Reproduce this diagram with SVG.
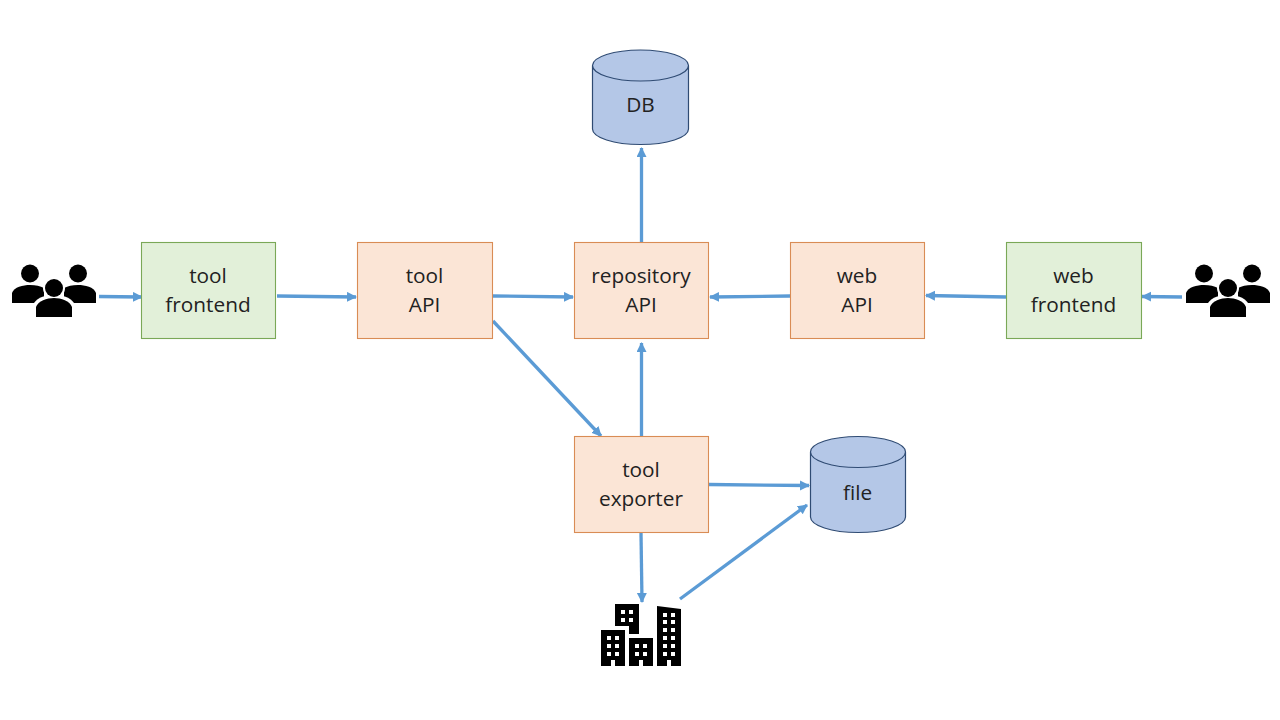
<svg xmlns="http://www.w3.org/2000/svg" xmlns:xlink="http://www.w3.org/1999/xlink" width="1280" height="720" viewBox="0 0 1280 720">
<style>
.o{fill:#fbe5d6;stroke:#d98c55;stroke-width:1.1}
.g{fill:#e2f0d9;stroke:#7aa857;stroke-width:1.1}
.c{fill:#b4c7e7;stroke:#2f4b73;stroke-width:1.2}
.t{font-family:"Open Sans","Noto Sans","Liberation Sans",sans-serif;font-size:20.800px;fill:#222;text-anchor:middle}
.l{fill:none;stroke:#5b9bd5;stroke-width:3.300;marker-end:url(#a)}
.w{fill:#fff}
</style>
<defs>
<marker id="a" markerUnits="userSpaceOnUse" markerWidth="11" markerHeight="11" refX="9" refY="5" orient="auto"><path d="M0 0L10 5L0 10Z" fill="#5b9bd5"/></marker>
<g id="people">
<circle cx="30" cy="273.500" r="9"/><circle cx="78" cy="273.500" r="9"/>
<path d="M12 303V293C14 287 23 285 30 285C36 285 40 286 44 288L44 303Z"/>
<path d="M96 303V293C94 287 85 285 78 285C72 285 68 286 64 288L64 303Z"/>
<path d="M34 303C38 297 46 295 54 295C62 295 70 297 74 303V306H34Z" fill="#fff"/>
<circle cx="54" cy="288" r="11" fill="#fff"/>
<circle cx="54" cy="288" r="9"/>
<path d="M36 317V307C38 301 47 298 54 298C61 298 70 301 72 307V317Z"/>
</g>
</defs>
<rect width="1280" height="720" fill="#fff"/>
<g id="connectors">
<path class="l" d="M99 296.500L142 297"/>
<path class="l" d="M277 296L356 297"/>
<path class="l" d="M493 296L573 297"/>
<path class="l" d="M790 296L710 297"/>
<path class="l" d="M1006 297L926 295.500"/>
<path class="l" d="M1182 297L1142 296.500"/>
<path class="l" d="M641.500 242V148"/>
<path class="l" d="M641.500 436V343"/>
<path class="l" d="M493 321L601 436"/>
<path class="l" d="M709 484.500L809 485.500"/>
<path class="l" d="M641 533L642 602"/>
<path class="l" d="M680 599L807 505"/>
</g>
<g id="db"><path class="c" d="M592.500 65.500V129A48 15.500 0 0 0 688.500 129V65.500A48 15.500 0 0 0 592.500 65.500A48 15.500 0 0 0 688.500 65.500"/><text class="t" x="640.500" y="112">DB</text></g>
<g id="file"><path class="c" d="M810.500 452V517A47.500 15.500 0 0 0 905.500 517V452A47.500 15.500 0 0 0 810.500 452A47.500 15.500 0 0 0 905.500 452"/><text class="t" x="857.500" y="500">file</text></g>
<g id="tool-frontend"><rect class="g" x="141.500" y="242.500" width="134" height="96"/><text class="t" x="208" y="283">tool</text><text class="t" x="208" y="312">frontend</text></g>
<g id="tool-api"><rect class="o" x="357.500" y="242.500" width="135" height="96"/><text class="t" x="424.500" y="283">tool</text><text class="t" x="424.500" y="312">API</text></g>
<g id="repository-api"><rect class="o" x="574.500" y="242.500" width="134" height="96"/><text class="t" x="641" y="283">repository</text><text class="t" x="641" y="312">API</text></g>
<g id="web-api"><rect class="o" x="790.500" y="242.500" width="134" height="96"/><text class="t" x="857" y="283">web</text><text class="t" x="857" y="312">API</text></g>
<g id="web-frontend"><rect class="g" x="1006.500" y="242.500" width="135" height="96"/><text class="t" x="1073.500" y="283">web</text><text class="t" x="1073.500" y="312">frontend</text></g>
<g id="tool-exporter"><rect class="o" x="574.500" y="436.500" width="134" height="96"/><text class="t" x="641" y="477">tool</text><text class="t" x="641" y="506">exporter</text></g>
<g id="users-left"><use xlink:href="#people" href="#people"/></g>
<g id="users-right"><use xlink:href="#people" href="#people" x="1174"/></g>
<g id="buildings">
<path d="M615 604H639V634H629V626H615Z"/>
<path d="M601 630H625V666H615V660H611V666H601Z"/>
<path d="M629 638H653V666H643V660H639V666H629Z"/>
<path d="M657 606L681 609V666H671V660H667V666H657Z"/>
<path class="w" d="M621 610h4v4h-4zM629 610h4v4h-4zM621 618h4v4h-4zM629 618h4v4h-4zM607 636h4v4h-4zM615 636h4v4h-4zM607 644h4v4h-4zM615 644h4v4h-4zM607 652h4v4h-4zM615 652h4v4h-4zM635 644h4v4h-4zM643 644h4v4h-4zM635 652h4v4h-4zM643 652h4v4h-4zM663 613h4v4h-4zM671 613h4v4h-4zM663 620h4v4h-4zM671 620h4v4h-4zM663 628h4v4h-4zM671 628h4v4h-4zM663 636h4v4h-4zM671 636h4v4h-4zM663 644h4v4h-4zM671 644h4v4h-4zM663 652h4v4h-4zM671 652h4v4h-4z"/>
</g>
</svg>
